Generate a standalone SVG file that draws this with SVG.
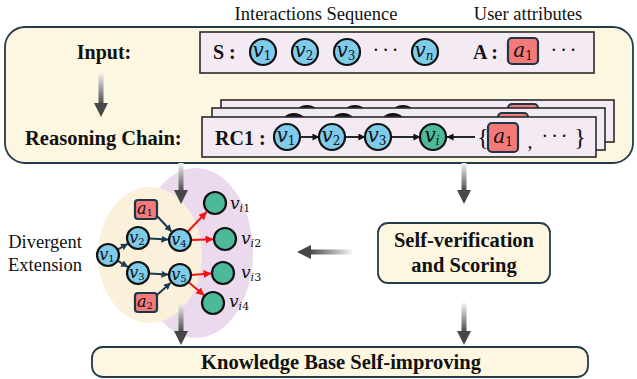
<svg xmlns="http://www.w3.org/2000/svg" width="637" height="379" viewBox="0 0 637 379">
<style>
.t { font-family: "Liberation Serif", "Times New Roman", serif; fill: #111; }
.b { font-weight: bold; }
.m { font-family: "DejaVu Serif", "Liberation Serif", serif; font-style: italic; fill: #111; }
.up { font-style: normal; }
.cream { fill: #FDF6E1; stroke: #243b4a; stroke-width: 1.8; }
.card { fill: #F4EAF4; stroke: #2a2a2a; stroke-width: 1.6; }
.vb { fill: #7ECBEA; stroke: #111; stroke-width: 2.2; }
.vg { fill: #4DB99B; stroke: #111; stroke-width: 2.2; }
.ar { fill: #F47A7A; stroke: #1d3646; stroke-width: 2.2; }
.dk { fill: #1a1a1a; stroke: #111; stroke-width: 2; }
.e { stroke: #1d3a4f; stroke-width: 2; fill: none; }
.er { stroke: #F01414; stroke-width: 2; fill: none; }
.ek { stroke: #111; stroke-width: 1.8; fill: none; }
.head { fill: #474747; }
</style>
<defs>
<linearGradient id="gd" x1="0" y1="0" x2="0" y2="1">
<stop offset="0" stop-color="#f4f4f4"/>
<stop offset="1" stop-color="#4a4a4a"/>
</linearGradient>
<linearGradient id="gl" x1="1" y1="0" x2="0" y2="0">
<stop offset="0" stop-color="#f4f4f4"/>
<stop offset="1" stop-color="#4a4a4a"/>
</linearGradient>
<marker id="mn" viewBox="0 0 8 8" refX="7.5" refY="4" markerWidth="7" markerHeight="7" markerUnits="userSpaceOnUse" orient="auto">
<path d="M0,0 L8,4 L0,8 z" fill="#1d3a4f"/>
</marker>
<marker id="mr" viewBox="0 0 8 8" refX="7.5" refY="4" markerWidth="8" markerHeight="8" markerUnits="userSpaceOnUse" orient="auto">
<path d="M0,0 L8,4 L0,8 z" fill="#F01414"/>
</marker>
<marker id="mk" viewBox="0 0 8 8" refX="7.5" refY="4" markerWidth="7" markerHeight="7" markerUnits="userSpaceOnUse" orient="auto">
<path d="M0,0 L8,4 L0,8 z" fill="#111"/>
</marker>
</defs>

<text class="t" x="316" y="20" font-size="18.5" text-anchor="middle">Interactions Sequence</text>
<text class="t" x="528" y="20" font-size="18.5" text-anchor="middle">User attributes</text>

<g id="main-box">
<rect class="cream" x="5" y="27" width="628" height="136" rx="20"/>
<text class="t b" x="104" y="59" font-size="20" text-anchor="middle">Input:</text>
<text class="t b" x="25" y="145" font-size="20.5">Reasoning Chain:</text>
</g>

<g id="input-seq">
<rect class="card" x="200" y="32" width="394" height="41"/>
<text class="t b" x="213" y="59" font-size="20">S :</text>
<circle class="vb" cx="263" cy="52" r="13"/>
<text class="m" x="262" y="57" font-size="20" text-anchor="middle">v<tspan class="up" font-size="12" dy="3">1</tspan></text>
<circle class="vb" cx="305" cy="52" r="13"/>
<text class="m" x="304" y="57" font-size="20" text-anchor="middle">v<tspan class="up" font-size="12" dy="3">2</tspan></text>
<circle class="vb" cx="347" cy="52" r="13"/>
<text class="m" x="346" y="57" font-size="20" text-anchor="middle">v<tspan class="up" font-size="12" dy="3">3</tspan></text>
<text class="t" x="387" y="57" font-size="20" text-anchor="middle" letter-spacing="3">···</text>
<circle class="vb" cx="425" cy="52" r="13"/>
<text class="m" x="424" y="57" font-size="20" text-anchor="middle">v<tspan font-size="12" dy="3">n</tspan></text>
<text class="t b" x="473" y="59" font-size="20">A :</text>
<rect class="ar" x="508" y="38" width="30" height="26" rx="4"/>
<text class="m" x="523" y="57" font-size="20" text-anchor="middle">a<tspan class="up" font-size="12" dy="3">1</tspan></text>
<text class="t" x="565" y="57" font-size="20" text-anchor="middle" letter-spacing="3">···</text>
</g>

<g id="rc-back">
<rect class="card" x="221" y="100" width="393" height="42"/>
<circle class="dk" cx="307" cy="119" r="13"/>
<circle class="dk" cx="355" cy="119" r="13"/>
<circle class="dk" cx="403" cy="119" r="13"/>
<rect class="ar" x="508" y="104" width="30" height="29" rx="4"/>
</g>
<g id="rc-mid">
<rect class="card" x="212" y="108" width="393" height="42"/>
<circle class="dk" cx="294" cy="127" r="13"/>
<circle class="dk" cx="343" cy="127" r="13"/>
<circle class="dk" cx="393" cy="127" r="13"/>
<rect class="ar" x="498" y="113" width="30" height="29" rx="4"/>
</g>
<g id="rc1">
<rect class="card" x="202" y="117" width="394" height="40"/>
<text class="t b" x="215" y="145" font-size="20">RC1 :</text>
<circle class="vb" cx="287" cy="137" r="13"/>
<text class="m" x="286" y="142" font-size="20" text-anchor="middle">v<tspan class="up" font-size="12" dy="3">1</tspan></text>
<circle class="vb" cx="332" cy="137" r="13"/>
<text class="m" x="331" y="142" font-size="20" text-anchor="middle">v<tspan class="up" font-size="12" dy="3">2</tspan></text>
<circle class="vb" cx="378" cy="137" r="13"/>
<text class="m" x="377" y="142" font-size="20" text-anchor="middle">v<tspan class="up" font-size="12" dy="3">3</tspan></text>
<circle class="vg" cx="433" cy="137" r="13"/>
<text class="m" x="432" y="142" font-size="20" text-anchor="middle">v<tspan font-size="12" dy="3">i</tspan></text>
<text class="t" x="483" y="145" font-size="24" text-anchor="middle">{</text>
<rect class="ar" x="488" y="123" width="30" height="29" rx="4"/>
<text class="m" x="503" y="143" font-size="20" text-anchor="middle">a<tspan class="up" font-size="12" dy="3">1</tspan></text>
<text class="t" x="530" y="148" font-size="20" text-anchor="middle">,</text>
<text class="t" x="556" y="143" font-size="20" text-anchor="middle" letter-spacing="3">···</text>
<text class="t" x="580" y="145" font-size="24" text-anchor="middle">}</text>
</g>

<g id="divergent">
<ellipse cx="196" cy="253" rx="57" ry="85" fill="#EBDAEE"/>
<ellipse cx="150" cy="255" rx="52" ry="68" fill="#FBF0D9"/>
<text class="t" x="45" y="248" font-size="18.5" text-anchor="middle">Divergent</text>
<text class="t" x="45" y="271" font-size="18.5" text-anchor="middle">Extension</text>
</g>

<g id="connectors">
<line class="ek" x1="300" y1="137" x2="319" y2="137" marker-end="url(#mk)"/>
<line class="ek" x1="345" y1="137" x2="365" y2="137" marker-end="url(#mk)"/>
<line class="ek" x1="391" y1="137" x2="420" y2="137" marker-end="url(#mk)"/>
<line class="ek" x1="475" y1="137" x2="447" y2="137" marker-end="url(#mk)"/>

<line class="e" x1="117.6" y1="249.6" x2="127.6" y2="243.9" marker-end="url(#mn)"/>
<line class="e" x1="117.4" y1="260.7" x2="127.7" y2="266.8" marker-end="url(#mn)"/>
<line class="e" x1="149" y1="238.5" x2="168" y2="239.5" marker-end="url(#mn)"/>
<line class="e" x1="149" y1="273.4" x2="168" y2="274.6" marker-end="url(#mn)"/>
<line class="e" x1="157" y1="216" x2="171.5" y2="231.5" marker-end="url(#mn)"/>
<line class="e" x1="157" y1="295" x2="170.5" y2="283" marker-end="url(#mn)"/>
<line class="er" x1="187.5" y1="232" x2="206.5" y2="212" marker-end="url(#mr)"/>
<line class="er" x1="191" y1="240" x2="213" y2="239.3" marker-end="url(#mr)"/>
<line class="er" x1="191" y1="275" x2="211" y2="273.5" marker-end="url(#mr)"/>
<line class="er" x1="188.4" y1="282.1" x2="204" y2="295.2" marker-end="url(#mr)"/>

<g id="arrow-input">
<rect x="98.5" y="73" width="5" height="31" fill="url(#gd)"/>
<polygon class="head" points="94,103 108,103 101,117"/>
</g>
<g id="arrow-left-down">
<rect x="178.5" y="163" width="5" height="28" fill="url(#gd)"/>
<polygon class="head" points="174,190 188,190 181,204"/>
</g>
<g id="arrow-right-down">
<rect x="461.5" y="163" width="5" height="28" fill="url(#gd)"/>
<polygon class="head" points="457,190 471,190 464,204"/>
</g>
<g id="arrow-to-graph">
<rect x="310" y="249.5" width="42" height="5" fill="url(#gl)"/>
<polygon class="head" points="311,245 311,259 297,252"/>
</g>
<g id="arrow-sv-down">
<rect x="461.5" y="303" width="5" height="29" fill="url(#gd)"/>
<polygon class="head" points="457,331 471,331 464,345"/>
</g>
<g id="arrow-graph-down">
<rect x="178.5" y="303" width="5" height="29" fill="url(#gd)"/>
<polygon class="head" points="174,331 188,331 181,345"/>
</g>
</g>

<g id="graph-nodes">
<g id="g-v1"><circle class="vb" cx="108" cy="255" r="11"/><text class="m" x="107" y="259.5" font-size="16" text-anchor="middle">v<tspan class="up" font-size="10" dy="2.5">1</tspan></text></g>
<g id="g-v2"><circle class="vb" cx="138" cy="238" r="11"/><text class="m" x="137" y="242.5" font-size="16" text-anchor="middle">v<tspan class="up" font-size="10" dy="2.5">2</tspan></text></g>
<g id="g-v3"><circle class="vb" cx="138" cy="273" r="11"/><text class="m" x="137" y="277.5" font-size="16" text-anchor="middle">v<tspan class="up" font-size="10" dy="2.5">3</tspan></text></g>
<g id="g-v4"><circle class="vb" cx="180" cy="240" r="11"/><text class="m" x="179" y="244.5" font-size="16" text-anchor="middle">v<tspan class="up" font-size="10" dy="2.5">4</tspan></text></g>
<g id="g-v5"><circle class="vb" cx="180" cy="275" r="11"/><text class="m" x="179" y="279.5" font-size="16" text-anchor="middle">v<tspan class="up" font-size="10" dy="2.5">5</tspan></text></g>
<g id="g-a1"><rect class="ar" x="135" y="200" width="22" height="19" rx="3"/><text class="m" x="145" y="213.5" font-size="16" text-anchor="middle">a<tspan class="up" font-size="10" dy="2.5">1</tspan></text></g>
<g id="g-a2"><rect class="ar" x="135" y="293" width="22" height="19" rx="3"/><text class="m" x="145" y="306.5" font-size="16" text-anchor="middle">a<tspan class="up" font-size="10" dy="2.5">2</tspan></text></g>
<g id="g-vi1"><circle class="vg" cx="215" cy="203" r="11"/><text class="m" x="230" y="209" font-size="17">v<tspan font-size="11" dy="3">i<tspan class="up">1</tspan></tspan></text></g>
<g id="g-vi2"><circle class="vg" cx="225" cy="239" r="11"/><text class="m" x="241" y="244" font-size="17">v<tspan font-size="11" dy="3">i<tspan class="up">2</tspan></tspan></text></g>
<g id="g-vi3"><circle class="vg" cx="223" cy="273" r="11"/><text class="m" x="241" y="278" font-size="17">v<tspan font-size="11" dy="3">i<tspan class="up">3</tspan></tspan></text></g>
<g id="g-vi4"><circle class="vg" cx="213" cy="303" r="11"/><text class="m" x="229" y="307" font-size="17">v<tspan font-size="11" dy="3">i<tspan class="up">4</tspan></tspan></text></g>
</g>

<g id="self-verification">
<rect class="cream" x="378" y="223" width="172" height="60" rx="10"/>
<text class="t b" x="464" y="247" font-size="20.5" text-anchor="middle">Self-verification</text>
<text class="t b" x="464" y="272" font-size="20.5" text-anchor="middle">and Scoring</text>
</g>

<g id="knowledge-base">
<rect class="cream" x="92" y="347" width="496" height="30" rx="11"/>
<text class="t b" x="341" y="369" font-size="20.5" text-anchor="middle">Knowledge Base Self-improving</text>
</g>
</svg>
